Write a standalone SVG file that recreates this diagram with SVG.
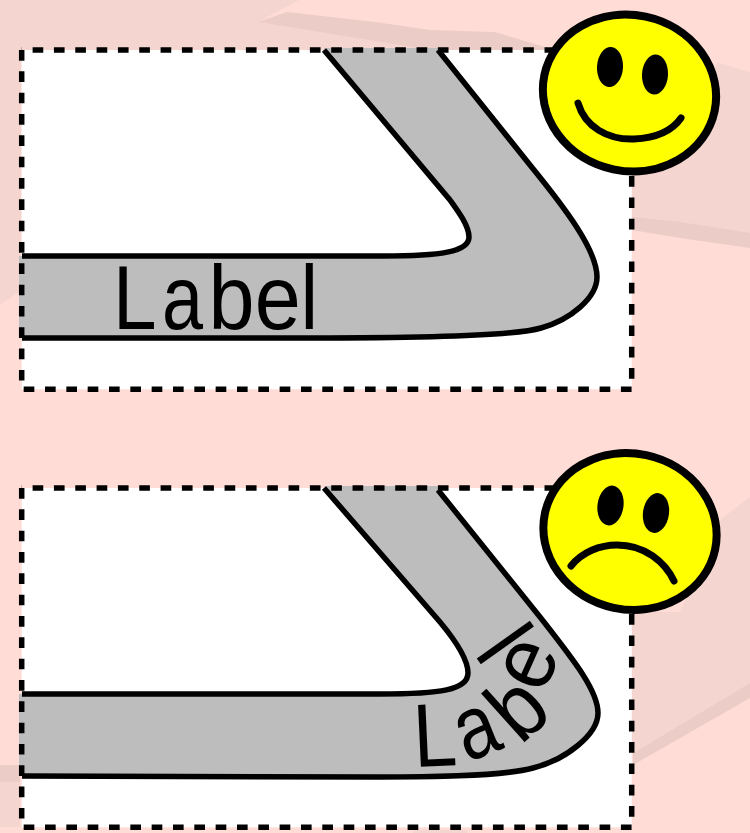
<svg xmlns="http://www.w3.org/2000/svg" width="750" height="833" viewBox="0 0 750 833">
<style>
.band{fill:#bdbdbd;stroke:none}
.edge{fill:none;stroke:#000;stroke-width:5.5;stroke-linecap:butt}
.box{fill:#fff;stroke:none}
.dash{fill:none;stroke:#000;stroke-width:5.5;stroke-dasharray:10.66 10.67}
.face{fill:#ff0;stroke:#000;stroke-width:8}
.eye{fill:#000}
.mouth{fill:none;stroke:#000;stroke-width:7;stroke-linecap:round}
.lab{font-family:"Liberation Sans",Arial,sans-serif;font-size:90px;fill:#000}
.p1{fill:#f5d5cf}.p2{fill:#ecccc6}
</style>
<rect width="750" height="833" fill="#ffdcd5"/>
<g id="background">
<polygon class="p1" points="0,0 299,0 258,22 430,50 21,50 21,290 0,305"/>
<polygon class="p2" points="287,12 375,22 430,30 495,32 555,50 430,50 258,22"/>
<polygon class="p1" points="718,63 750,72 750,240 632,222 632,175"/>
<polygon class="p2" points="632,217 680,222 750,233 750,248 680,238 632,230"/>
<polygon class="p1" points="750,497 720,520 680,612 632,612 632,753 750,683"/>
<polygon class="p2" points="633,753 750,683 750,698 633,765"/>
<polygon class="p2" points="0,765 20,765 20,782 0,782"/>
<polygon class="p1" points="0,782 20,782 20,827 0,827"/>
<polygon class="p1" points="413,830 467,830 467,833 413,833"/>
</g>
<g id="panel-top">
<rect class="box" x="21.7" y="50" width="610" height="339.3"/>
<path id="band-top" class="band" d="M324,48 L438,48 L530,165 C565,208 597,250 597,277 C597,298 570,320 541,328 C515,336 400,338 311,338 L19,338 L19,256 L383,256 C440,256 469,252 469,237 C469,226 458,211 450,200 Z"/>
<path class="edge" d="M438,50 L530,165 C565,208 597,250 597,277 C597,298 570,320 541,328 C515,336 400,338 311,338 L22,338"/>
<path class="edge" d="M324,50 L450,200 C458,211 469,226 469,237 C469,252 440,256 383,256 L22,256"/>
<g class="lab">
<text transform="translate(113,329) scale(.87,1)">L</text>
<text transform="translate(162,329) scale(.82,1)">a</text>
<text transform="translate(208.5,329) scale(.92,1)">b</text>
<text transform="translate(254.8,329) scale(.92,1)">e</text>
<text transform="translate(300.5,329) scale(.88,1)">l</text>
</g>
<path class="dash" d="M21.7,50 V389.3 H631.7 V50 H21.7"/>
</g>
<g id="panel-bottom">
<rect class="box" x="21.7" y="488" width="610" height="339.3"/>
<path id="band-bottom" class="band" d="M324,486 L437,486 L540,617 C572,658 598,690 598,713 C598,735 565,760 533,768 C500,777 420,777 380,777 L19,776 L19,694 L380,694 C440,694 468,690 468,673 C468,660 455,640 440,622 Z"/>
<path class="edge" d="M438,490 L540,617 C572,658 598,690 598,713 C598,735 565,760 533,768 C500,777 420,777 380,777 L22,776"/>
<path class="edge" d="M324,488 L440,622 C455,640 468,660 468,673 C468,690 440,694 380,694 L22,694"/>
<g class="lab">
<text transform="translate(414.5,767) rotate(-2.6) scale(.87,1)">L</text>
<text transform="translate(467.3,762.8) rotate(-22) scale(.82,1)">a</text>
<text transform="translate(520.6,745.8) rotate(-42) scale(.92,1)">b</text>
<text transform="translate(542.5,695.5) rotate(-66) scale(.92,1)">e</text>
<text transform="translate(537,630.7) rotate(-125.5) scale(.88,1)">l</text>
</g>
<path class="dash" d="M21.7,488 V827.3 H631.7 V488 H21.7"/>
</g>
<g id="smiley-happy">
<ellipse class="face" cx="629.5" cy="93" rx="87" ry="78" transform="rotate(12 629.5 93)"/>
<ellipse class="eye" cx="610" cy="67" rx="13" ry="20" transform="rotate(3 610 67)"/>
<ellipse class="eye" cx="655" cy="74.5" rx="13" ry="20" transform="rotate(3 655 74.5)"/>
<path class="mouth" d="M578,103 C585,127 608,140 634,139 C656,138 672,131 681,118"/>
</g>
<g id="smiley-sad">
<ellipse class="face" cx="630" cy="531.5" rx="87" ry="78" transform="rotate(12 630 531.5)"/>
<ellipse class="eye" cx="610.5" cy="505.5" rx="13" ry="20" transform="rotate(8 610.5 505.5)"/>
<ellipse class="eye" cx="656" cy="513" rx="13" ry="20" transform="rotate(8 656 513)"/>
<path class="mouth" d="M571,566 C582,552 600,545 617,545 C645,545 665,562 674,581"/>
</g>
</svg>
